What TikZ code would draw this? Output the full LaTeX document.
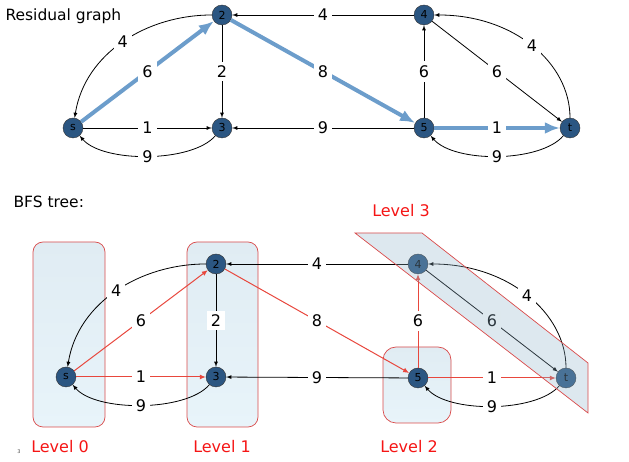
\documentclass[tikz,border=0pt]{standalone}
\usepackage{fontspec}
\setmainfont{DejaVu Sans}
\usetikzlibrary{arrows.meta}
\definecolor{vertexblue}{HTML}{2B5682}
\definecolor{pathblue}{HTML}{6C9DCB}
\definecolor{treered}{HTML}{E8473D}
\definecolor{levelred}{HTML}{F51515}
\definecolor{boxred}{HTML}{D94A4A}
\definecolor{boxtop}{HTML}{E0ECF3}
\definecolor{boxbottom}{HTML}{E8F4FA}
\definecolor{bandfill}{HTML}{8FB3CA}
\tikzset{
	vertex/.style={
		draw=black!80,
		circle,
		fill=vertexblue,
		inner sep=0pt,
		minimum size=20pt,
		font=\fontsize{11}{13}\selectfont
	},
	weight/.style={
		fill=white,
		text=black,
		inner sep=4pt,
		font=\fontsize{16}{18}\selectfont
	},
	levelbox/.style={
		draw=boxred,
		line width=0.7pt,
		rounded corners=10pt,
		top color=boxtop,
		bottom color=boxbottom
	},
	leveltext/.style={
		text=levelred,
		font=\fontsize{16}{18}\selectfont
	},
	augment/.style={
		line width=4pt,
		pathblue,
		-{Latex[length=15pt,width=12pt]}
	},
	treeedge/.style={
		treered,
		line width=1pt,
		-{Latex[length=6pt,width=5pt]}
	}
}

\begin{document}
\begin{tikzpicture}[x=1pt, y=1pt]
	\useasboundingbox (0,0) rectangle (629,462);
	
	% titles
	\node[anchor=west, font=\fontsize{15.5}{18}\selectfont] (restitle) at (2,446) {Residual graph};
	\node[anchor=west, font=\fontsize{15.5}{18}\selectfont] (bfstitle) at (10,260) {BFS tree:};
	
	% residual graph
	\node[vertex] (rs) at (73,334) {s};
	\node[vertex] (r2) at (222,447) {2};
	\node[vertex] (r3) at (222,334) {3};
	\node[vertex] (r4) at (424,447) {4};
	\node[vertex] (r5) at (424,334) {5};
	\node[vertex] (rt) at (570,334) {t};
	
	\begin{scope}[line width=0.8pt, ->, >=latex]
	\draw (r2) .. controls +(-75,0) and +(12,75) .. (rs) node[weight, midway] {4};
	\draw (r2) -- node[weight] {2} (r3);
	\draw (rs) -- node[weight] {1} (r3);
	\draw (r3) .. controls +(-30,-35) and +(30,-35) .. (rs) node[weight, midway] {9};
	\draw (r4) -- node[weight] {4} (r2);
	\draw (r5) -- node[weight] {9} (r3);
	\draw (r5) -- node[weight] {6} (r4);
	\draw (r4) -- node[weight] {6} (rt);
	\draw (rt) .. controls +(0,65) and +(90,0) .. (r4) node[weight, midway] {4};
	\draw (rt) .. controls +(-30,-35) and +(30,-35) .. (r5) node[weight, midway] {9};
	\end{scope}
	
	% augmenting path
	\draw[augment] (rs) -- node[weight] {6} (r2);
	\draw[augment] (r2) -- node[weight] {8} (r5);
	\draw[augment] (r5) -- node[weight] {1} (rt);
	
	% level boxes
	\draw[levelbox] (33,35) rectangle (105,220);
	\draw[levelbox] (187,35) rectangle (258,220);
	\draw[levelbox, rounded corners=13pt] (383,39) rectangle (451,115);
	
	% bfs tree
	\node[vertex] (bs) at (66,85) {s};
	\node[vertex] (b2) at (216,198) {2};
	\node[vertex] (b3) at (216,85) {3};
	\node[vertex] (b4) at (418,198) {4};
	\node[vertex] (b5) at (418,84) {5};
	\node[vertex] (bt) at (566,84) {t};
	
	\begin{scope}[line width=0.8pt, ->, >=latex]
	\draw (b2) .. controls +(-75,0) and +(12,75) .. (bs) node[weight, midway] {4};
	\draw (b2) -- node[weight] {2} (b3);
	\draw (b3) .. controls +(-30,-35) and +(30,-35) .. (bs) node[weight, midway] {9};
	\draw (b4) -- node[weight] {4} (b2);
	\draw (b5) -- node[weight] {9} (b3);
	\draw (b4) -- node[weight] {6} (bt);
	\draw (bt) .. controls +(0,65) and +(90,0) .. (b4) node[weight, midway] {4};
	\draw (bt) .. controls +(-30,-35) and +(30,-35) .. (b5) node[weight, midway] {9};
	\end{scope}
	
	% tree edges
	\draw[treeedge] (bs) -- node[weight] {6} (b2);
	\draw[treeedge] (bs) -- node[weight] {1} (b3);
	\draw[treeedge] (b2) -- node[weight] {8} (b5);
	\draw[treeedge] (b5) -- node[weight] {6} (b4);
	\draw[treeedge] (b5) -- node[weight] {1} (bt);
	
	% level 3 band
	\draw[boxred, line width=0.7pt, fill=bandfill, fill opacity=0.3] (355,229) -- (422,229) -- (588,99) -- (588,49) -- cycle;
	
	% level descriptions
	\node[leveltext] (level0) at (60,15) {Level 0};
	\node[leveltext] (level1) at (222,15) {Level 1};
	\node[leveltext] (level2) at (409,15) {Level 2};
	\node[leveltext] (level3) at (401,251) {Level 3};
	\node[font=\fontsize{5}{6}\selectfont, text=black!70] (slidenum) at (19,10) {3};
\end{tikzpicture}
\end{document}
